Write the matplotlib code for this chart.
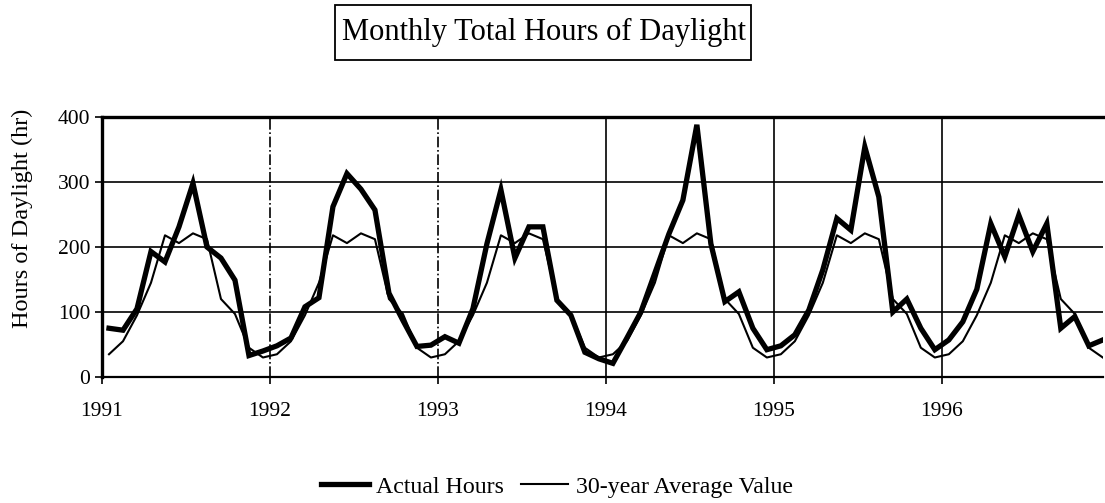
import numpy as np
import matplotlib
matplotlib.use('Agg')
import matplotlib.pyplot as plt
from matplotlib.patches import Rectangle

# monthly actual hours of daylight, Jan..Dec
actual_1991 = [75, 72, 105, 193, 177, 231, 298, 200, 183, 149, 33, 40]
actual_1992 = [48, 60, 108, 122, 262, 313, 289, 257, 129, 87, 47, 49]
actual_1993 = [62, 52, 105, 205, 288, 183, 231, 231, 118, 95, 38, 28]
actual_1994 = [21, 60, 100, 160, 220, 272, 388, 205, 116, 131, 75, 42]
actual_1995 = [48, 65, 103, 165, 244, 226, 354, 277, 100, 120, 75, 42]
actual_1996 = [57, 85, 135, 236, 185, 249, 193, 236, 75, 93, 48, 57]

# 30-year monthly average (same every year)
average_month = [35, 55, 95, 145, 218, 206, 221, 212, 120, 97, 45, 30]

years = ['1991', '1992', '1993', '1994', '1995', '1996']

actual = (actual_1991 + actual_1992 + actual_1993
          + actual_1994 + actual_1995 + actual_1996)
average = average_month * len(years)
x = np.arange(len(actual)) + 0.5

plt.rcParams['font.family'] = ['Liberation Serif', 'DejaVu Serif']

fig = plt.figure(figsize=(11.05, 5.03), dpi=100)
ax = fig.add_axes([0.0923, 0.2505, 0.9057, 0.5169])

l1, = ax.plot(x, actual, color='black', linewidth=3.8,
              solid_joinstyle='miter', label='Actual Hours')
l2, = ax.plot(x, average, color='black', linewidth=1.5,
              label='30-year Average Value')

ax.set_xlim(0, 71.5)
ax.set_ylim(0, 400)
ax.set_yticks([0, 100, 200, 300, 400])
ax.set_xticks(np.arange(len(years)) * 12)
ax.set_xticklabels(years)

for v in [100, 200, 300]:
    ax.axhline(v, color='black', linewidth=1.2, zorder=0)
for i in range(1, len(years)):
    style = '-.' if i < 3 else '-'
    ax.axvline(i * 12, color='black', linewidth=1.2, linestyle=style, zorder=0)

ax.spines['right'].set_visible(False)
ax.spines['top'].set_linewidth(2.4)
ax.spines['left'].set_linewidth(2.4)
ax.spines['bottom'].set_linewidth(1.6)
ax.tick_params(axis='both', direction='out', length=5, width=1.2,
               labelsize=15.5)
ax.tick_params(axis='x', pad=13)
ax.set_ylabel('Hours of Daylight (hr)', fontsize=17.5)
ax.yaxis.set_label_coords(-0.069, 0.61)

fig.text(0.492, 0.936, 'Monthly Total Hours of Daylight', fontsize=22,
         ha='center', va='center')
fig.patches.append(Rectangle((0.303, 0.881), 0.377, 0.109,
                             transform=fig.transFigure, fill=False,
                             edgecolor='black', linewidth=1.3))

fig.legend(handles=[l1, l2], loc='center', bbox_to_anchor=(0.504, 0.032),
           ncol=2, frameon=False, fontsize=17.2, handlelength=2.0,
           handletextpad=0.3, columnspacing=0.7)

fig.savefig('out.png', dpi=100)
